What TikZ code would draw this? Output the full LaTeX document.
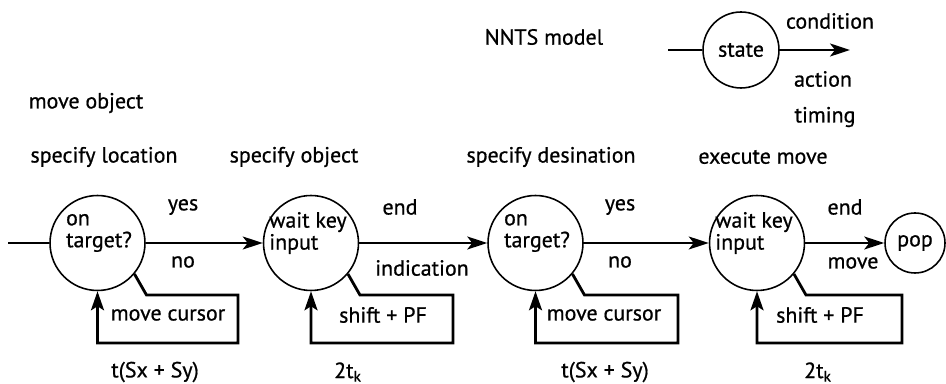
\documentclass[tikz,border=0pt]{standalone}
\usepackage{fontspec}
\setmainfont{PT Sans}[UprightFeatures={FakeBold=0.7}]
\usetikzlibrary{arrows.meta}

\tikzset{
    state/.style={draw, circle, line width=0.9pt, minimum size=1.9cm, inner sep=0pt},
    flow/.style={line width=1.2pt, -{Stealth[length=0.4cm, width=0.26cm, inset=0.1cm]}},
    fb/.style={line width=1.6pt, -{Stealth[length=0.38cm, width=0.26cm, inset=0.08cm]}},
    lbl/.style={font=\fontsize{12.5}{12.5}\selectfont, inner sep=0pt}
}

\begin{document}
\begin{tikzpicture}[x=0.02cm, y=-0.02cm]
                    \useasboundingbox (0,0) rectangle (946,384);

                    \node[lbl] (model) at (544,37) {NNTS model};
                    \node[state, minimum size=1.52cm] (L) at (741,50) {};
                    \node[lbl] (Lt) at (L.center) {state};
                    \coordinate (Lin) at (668,50);
                    \coordinate (Lout) at (850,50);
                    \draw[line width=1.2pt] (Lin) -- (L);
                    \draw[flow] (L) -- (Lout);
                    \node[lbl] (cond) at (830,21) {condition};
                    \node[lbl] (act) at (823,79) {action};
                    \node[lbl] (tim) at (825,117) {timing};

                    \node[lbl] (title) at (86,103) {move object};
                    \node[lbl] (h1) at (104,157) {specify location};
                    \node[lbl] (h2) at (294,157) {specify object};
                    \node[lbl] (h3) at (551,157) {specify desination};
                    \node[lbl] (h4) at (763,157) {execute move};

                    \node[state] (A) at (97.5,243) {};
                    \node[state] (B) at (311,243) {};
                    \node[state] (C) at (535.5,243) {};
                    \node[state] (D) at (757,243) {};
                    \node[state, minimum size=1.2cm] (E) at (915,243) {};
                    \node[lbl, align=left] (At) at (99,233) {on\\target?};
                    \node[lbl, align=left] (Bt) at (308,233) {wait key\\input};
                    \node[lbl, align=left] (Ct) at (537,233) {on\\target?};
                    \node[lbl, align=left] (Dt) at (754,233) {wait key\\input};
                    \node[lbl] (Et) at (E.center) {pop};

                    \coordinate (in) at (8,243);
                    \draw[line width=1.2pt] (in) -- (A);
                    \draw[flow] (A) -- (B);
                    \draw[flow] (B) -- (C);
                    \draw[flow] (C) -- (D);
                    \draw[flow] (D) -- (E);

                    \node[lbl] (y1) at (183,207) {yes};
                    \node[lbl] (n1) at (183,262) {no};
                    \node[lbl] (e1) at (400,207) {end};
                    \node[lbl] (i1) at (422,268) {indication};
                    \node[lbl] (y2) at (620,207) {yes};
                    \node[lbl] (n2) at (620,262) {no};
                    \node[lbl] (e2) at (845,207) {end};
                    \node[lbl] (m2) at (853,263) {move};

                    \draw[fb] (A.-40) -- ++(12,21) -| (238,343) -| (A.south);
                    \draw[fb] (B.-40) -- ++(12,21) -| (453,343) -| (B.south);
                    \draw[fb] (C.-40) -- ++(12,21) -| (678,343) -| (C.south);
                    \draw[fb] (D.-40) -- ++(12,21) -| (902,343) -| (D.south);

                    \node[lbl] (a1) at (168,315) {move cursor};
                    \node[lbl] (a2) at (383,315) {shift + PF};
                    \node[lbl] (a3) at (604,315) {move cursor};
                    \node[lbl] (a4) at (820,315) {shift + PF};

                    \node[lbl] (t1) at (155,372) {t(Sx + Sy)};
                    \node[lbl] (t2) at (348,372) {2t\textsubscript{k}};
                    \node[lbl] (t3) at (605,372) {t(Sx + Sy)};
                    \node[lbl] (t4) at (818,372) {2t\textsubscript{k}};
                \end{tikzpicture}
\end{document}
